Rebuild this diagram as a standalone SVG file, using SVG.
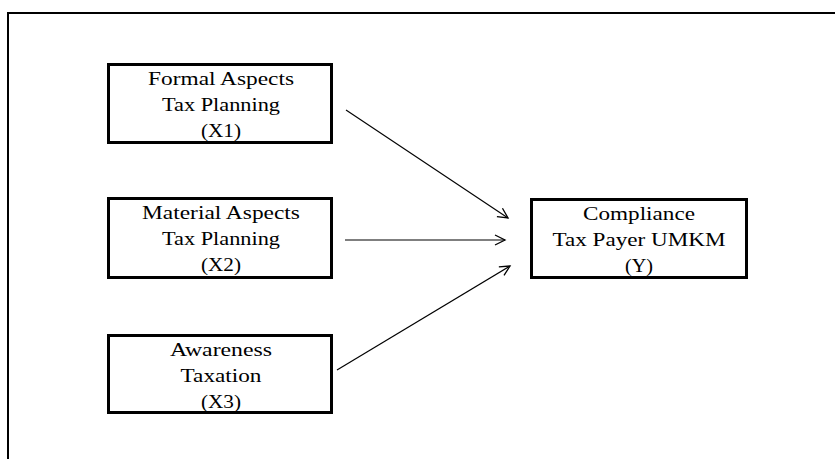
<svg xmlns="http://www.w3.org/2000/svg" width="835" height="459" viewBox="0 0 835 459">
<style>
.box{fill:#fff;stroke:#000;stroke-width:3}
.t{font-family:"Liberation Serif","Times New Roman",serif;font-size:18.5px;fill:#000;text-anchor:middle}
.c{stroke:#000;stroke-width:1.2;fill:none}
</style>
<defs>
<marker id="ah" markerWidth="14" markerHeight="14" refX="11" refY="6" orient="auto" markerUnits="userSpaceOnUse">
<path d="M1,1 L11,6 L1,11" fill="none" stroke="#000" stroke-width="1.3"/>
</marker>
</defs>
<rect width="835" height="459" fill="#fff"/>
<rect x="8" y="13" width="840" height="460" fill="none" stroke="#000" stroke-width="2"/>
<g id="connectors">
<line class="c" x1="346" y1="110" x2="508" y2="218" marker-end="url(#ah)"/>
<line class="c" x1="345" y1="240" x2="505" y2="240" marker-end="url(#ah)"/>
<line class="c" x1="337" y1="370" x2="510" y2="266" marker-end="url(#ah)"/>
</g>
<g id="x1">
<rect class="box" x="108.5" y="64.5" width="223" height="78"/>
<g transform="translate(221,0) scale(1.24,1)">
<text class="t" x="0" y="85" textLength="117.7" lengthAdjust="spacingAndGlyphs">Formal Aspects</text>
<text class="t" x="0" y="111" textLength="95.2" lengthAdjust="spacingAndGlyphs">Tax Planning</text>
<text class="t" x="0" y="137" textLength="32.3" lengthAdjust="spacingAndGlyphs">(X1)</text>
</g>
</g>
<g id="x2">
<rect class="box" x="108.5" y="198.5" width="223" height="79"/>
<g transform="translate(221,0) scale(1.24,1)">
<text class="t" x="0" y="219" textLength="127.4" lengthAdjust="spacingAndGlyphs">Material Aspects</text>
<text class="t" x="0" y="245" textLength="95.2" lengthAdjust="spacingAndGlyphs">Tax Planning</text>
<text class="t" x="0" y="271" textLength="32.3" lengthAdjust="spacingAndGlyphs">(X2)</text>
</g>
</g>
<g id="x3">
<rect class="box" x="108.5" y="335.5" width="223" height="77"/>
<g transform="translate(221,0) scale(1.24,1)">
<text class="t" x="0" y="356" textLength="82.3" lengthAdjust="spacingAndGlyphs">Awareness</text>
<text class="t" x="0" y="382" textLength="65.3" lengthAdjust="spacingAndGlyphs">Taxation</text>
<text class="t" x="0" y="408" textLength="32.3" lengthAdjust="spacingAndGlyphs">(X3)</text>
</g>
</g>
<g id="y">
<rect class="box" x="531.5" y="199.5" width="215" height="78"/>
<g transform="translate(639,0) scale(1.24,1)">
<text class="t" x="0" y="220" textLength="90.3" lengthAdjust="spacingAndGlyphs">Compliance</text>
<text class="t" x="0" y="246" textLength="139.5" lengthAdjust="spacingAndGlyphs">Tax Payer UMKM</text>
<text class="t" x="0" y="272" textLength="22.6" lengthAdjust="spacingAndGlyphs">(Y)</text>
</g>
</g>
</svg>
